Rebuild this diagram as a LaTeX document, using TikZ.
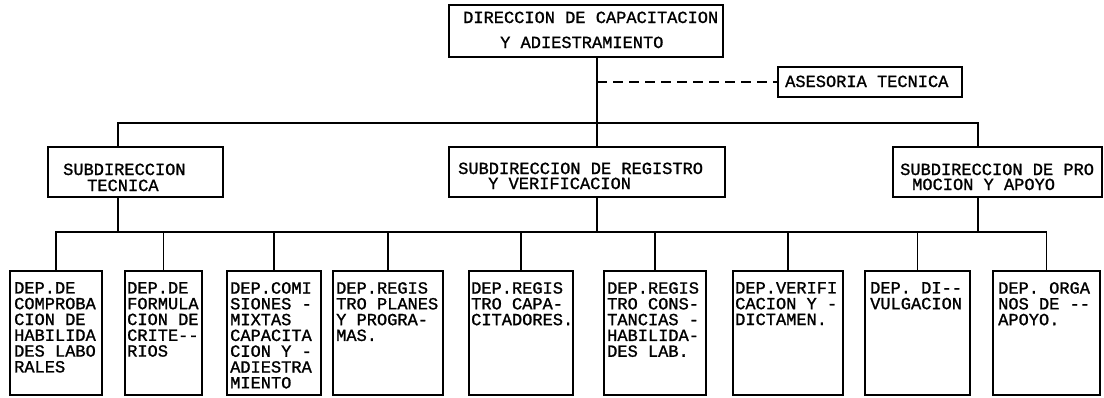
\documentclass[tikz,border=0pt]{standalone}
\usepackage{fontspec}
\newfontfamily\tw{Liberation Mono}[FakeBold=1.2]
\begin{document}
\begin{tikzpicture}[x=1pt,y=-1pt,
  box/.style={draw,line width=1.4pt,inner sep=0pt},
  conn/.style={line width=1.4pt},
  dashline/.style={line width=1.4pt,dash pattern=on 10pt off 6pt},
  txt/.style={anchor=base west,inner sep=0pt,font=\tw\fontsize{17}{16}\selectfont},
  dtxt/.style={anchor=north west,inner sep=0pt,align=left,font=\tw\fontsize{17}{15.8}\selectfont}]
\useasboundingbox (0,0) rectangle (1104,397);
% boxes
\node[box,minimum width=274pt,minimum height=52pt] (dir) at (586,31) {};
\node[box,minimum width=184pt,minimum height=30pt] (ases) at (870,82) {};
\node[box,minimum width=175pt,minimum height=50pt] (s1) at (135.5,172) {};
\node[box,minimum width=276pt,minimum height=50pt] (s2) at (587,172) {};
\node[box,minimum width=209pt,minimum height=50pt] (s3) at (997.5,172) {};
\node[box,minimum width=92pt,minimum height=124pt] (d1) at (56,333) {};
\node[box,minimum width=77pt,minimum height=124pt] (d2) at (163.5,333) {};
\node[box,minimum width=94pt,minimum height=124pt] (d3) at (274,333) {};
\node[box,minimum width=110pt,minimum height=124pt] (d4) at (388,333) {};
\node[box,minimum width=104pt,minimum height=124pt] (d5) at (521,333) {};
\node[box,minimum width=102pt,minimum height=124pt] (d6) at (655,333) {};
\node[box,minimum width=110pt,minimum height=124pt] (d7) at (788,333) {};
\node[box,minimum width=105pt,minimum height=124pt] (d8) at (917.5,333) {};
\node[box,minimum width=107pt,minimum height=124pt] (d9) at (1046.5,333) {};
% bus coordinates
\coordinate (tbus) at (0,123);
\coordinate (bus) at (0,232);
% connectors
\draw[conn] ([xshift=11pt]dir.south) -- ([xshift=10pt]s2.north);
\draw[dashline] ([xshift=11pt]dir.south |- ases.west) -- (ases.west);
\draw[conn] ([xshift=-17.5pt]s1.north) -- ([xshift=-17.5pt]s1.north |- tbus)
  -- ([xshift=-19.5pt]s3.north |- tbus) -- ([xshift=-19.5pt]s3.north);
\draw[conn] ([xshift=-17.5pt]s1.south) -- ([xshift=-17.5pt]s1.south |- bus);
\draw[conn] ([xshift=10pt]s2.south) -- ([xshift=10pt]s2.south |- bus);
\draw[conn] ([xshift=-19.5pt]s3.south) -- ([xshift=-19.5pt]s3.south |- bus);
\draw[conn] (d1.north) -- (d1.north |- bus) -- (d9.north |- bus) -- (d9.north);
\foreach \d in {d2,d3,d4,d5,d6,d7,d8}{\draw[conn] (\d.north) -- (\d.north |- bus);}
% texts
\node[txt] (tdir1) at (463,23) {DIRECCION DE CAPACITACION};
\node[txt] (tdir2) at (500,48) {Y ADIESTRAMIENTO};
\node[txt] (tases) at (785,87) {ASESORIA TECNICA};
\node[txt] (ts1a) at (63,175) {SUBDIRECCION};
\node[txt] (ts1b) at (87,191) {TECNICA};
\node[txt] (ts2a) at (458,174) {SUBDIRECCION DE REGISTRO};
\node[txt] (ts2b) at (488,189) {Y VERIFICACION};
\node[txt] (ts3a) at (900,175) {SUBDIRECCION DE PRO};
\node[txt] (ts3b) at (912,190) {MOCION Y APOYO};
\node[dtxt] (td1) at (14,282) {DEP.DE\\COMPROBA\\CION DE\\HABILIDA\\DES LABO\\RALES};
\node[dtxt] (td2) at (127,282) {DEP.DE\\FORMULA\\CION DE\\CRITE--\\RIOS};
\node[dtxt] (td3) at (230,282) {DEP.COMI\\SIONES -\\MIXTAS\\CAPACITA\\CION Y -\\ADIESTRA\\MIENTO};
\node[dtxt] (td4) at (336,282) {DEP.REGIS\\TRO PLANES\\Y PROGRA-\\MAS.};
\node[dtxt] (td5) at (471,282) {DEP.REGIS\\TRO CAPA-\\CITADORES.};
\node[dtxt] (td6) at (607,282) {DEP.REGIS\\TRO CONS-\\TANCIAS -\\HABILIDA-\\DES LAB.};
\node[dtxt] (td7) at (735,282) {DEP.VERIFI\\CACION Y -\\DICTAMEN.};
\node[dtxt] (td8) at (870,282) {DEP. DI--\\VULGACION};
\node[dtxt] (td9) at (998,282) {DEP. ORGA\\NOS DE --\\APOYO.};
\end{tikzpicture}
\end{document}
